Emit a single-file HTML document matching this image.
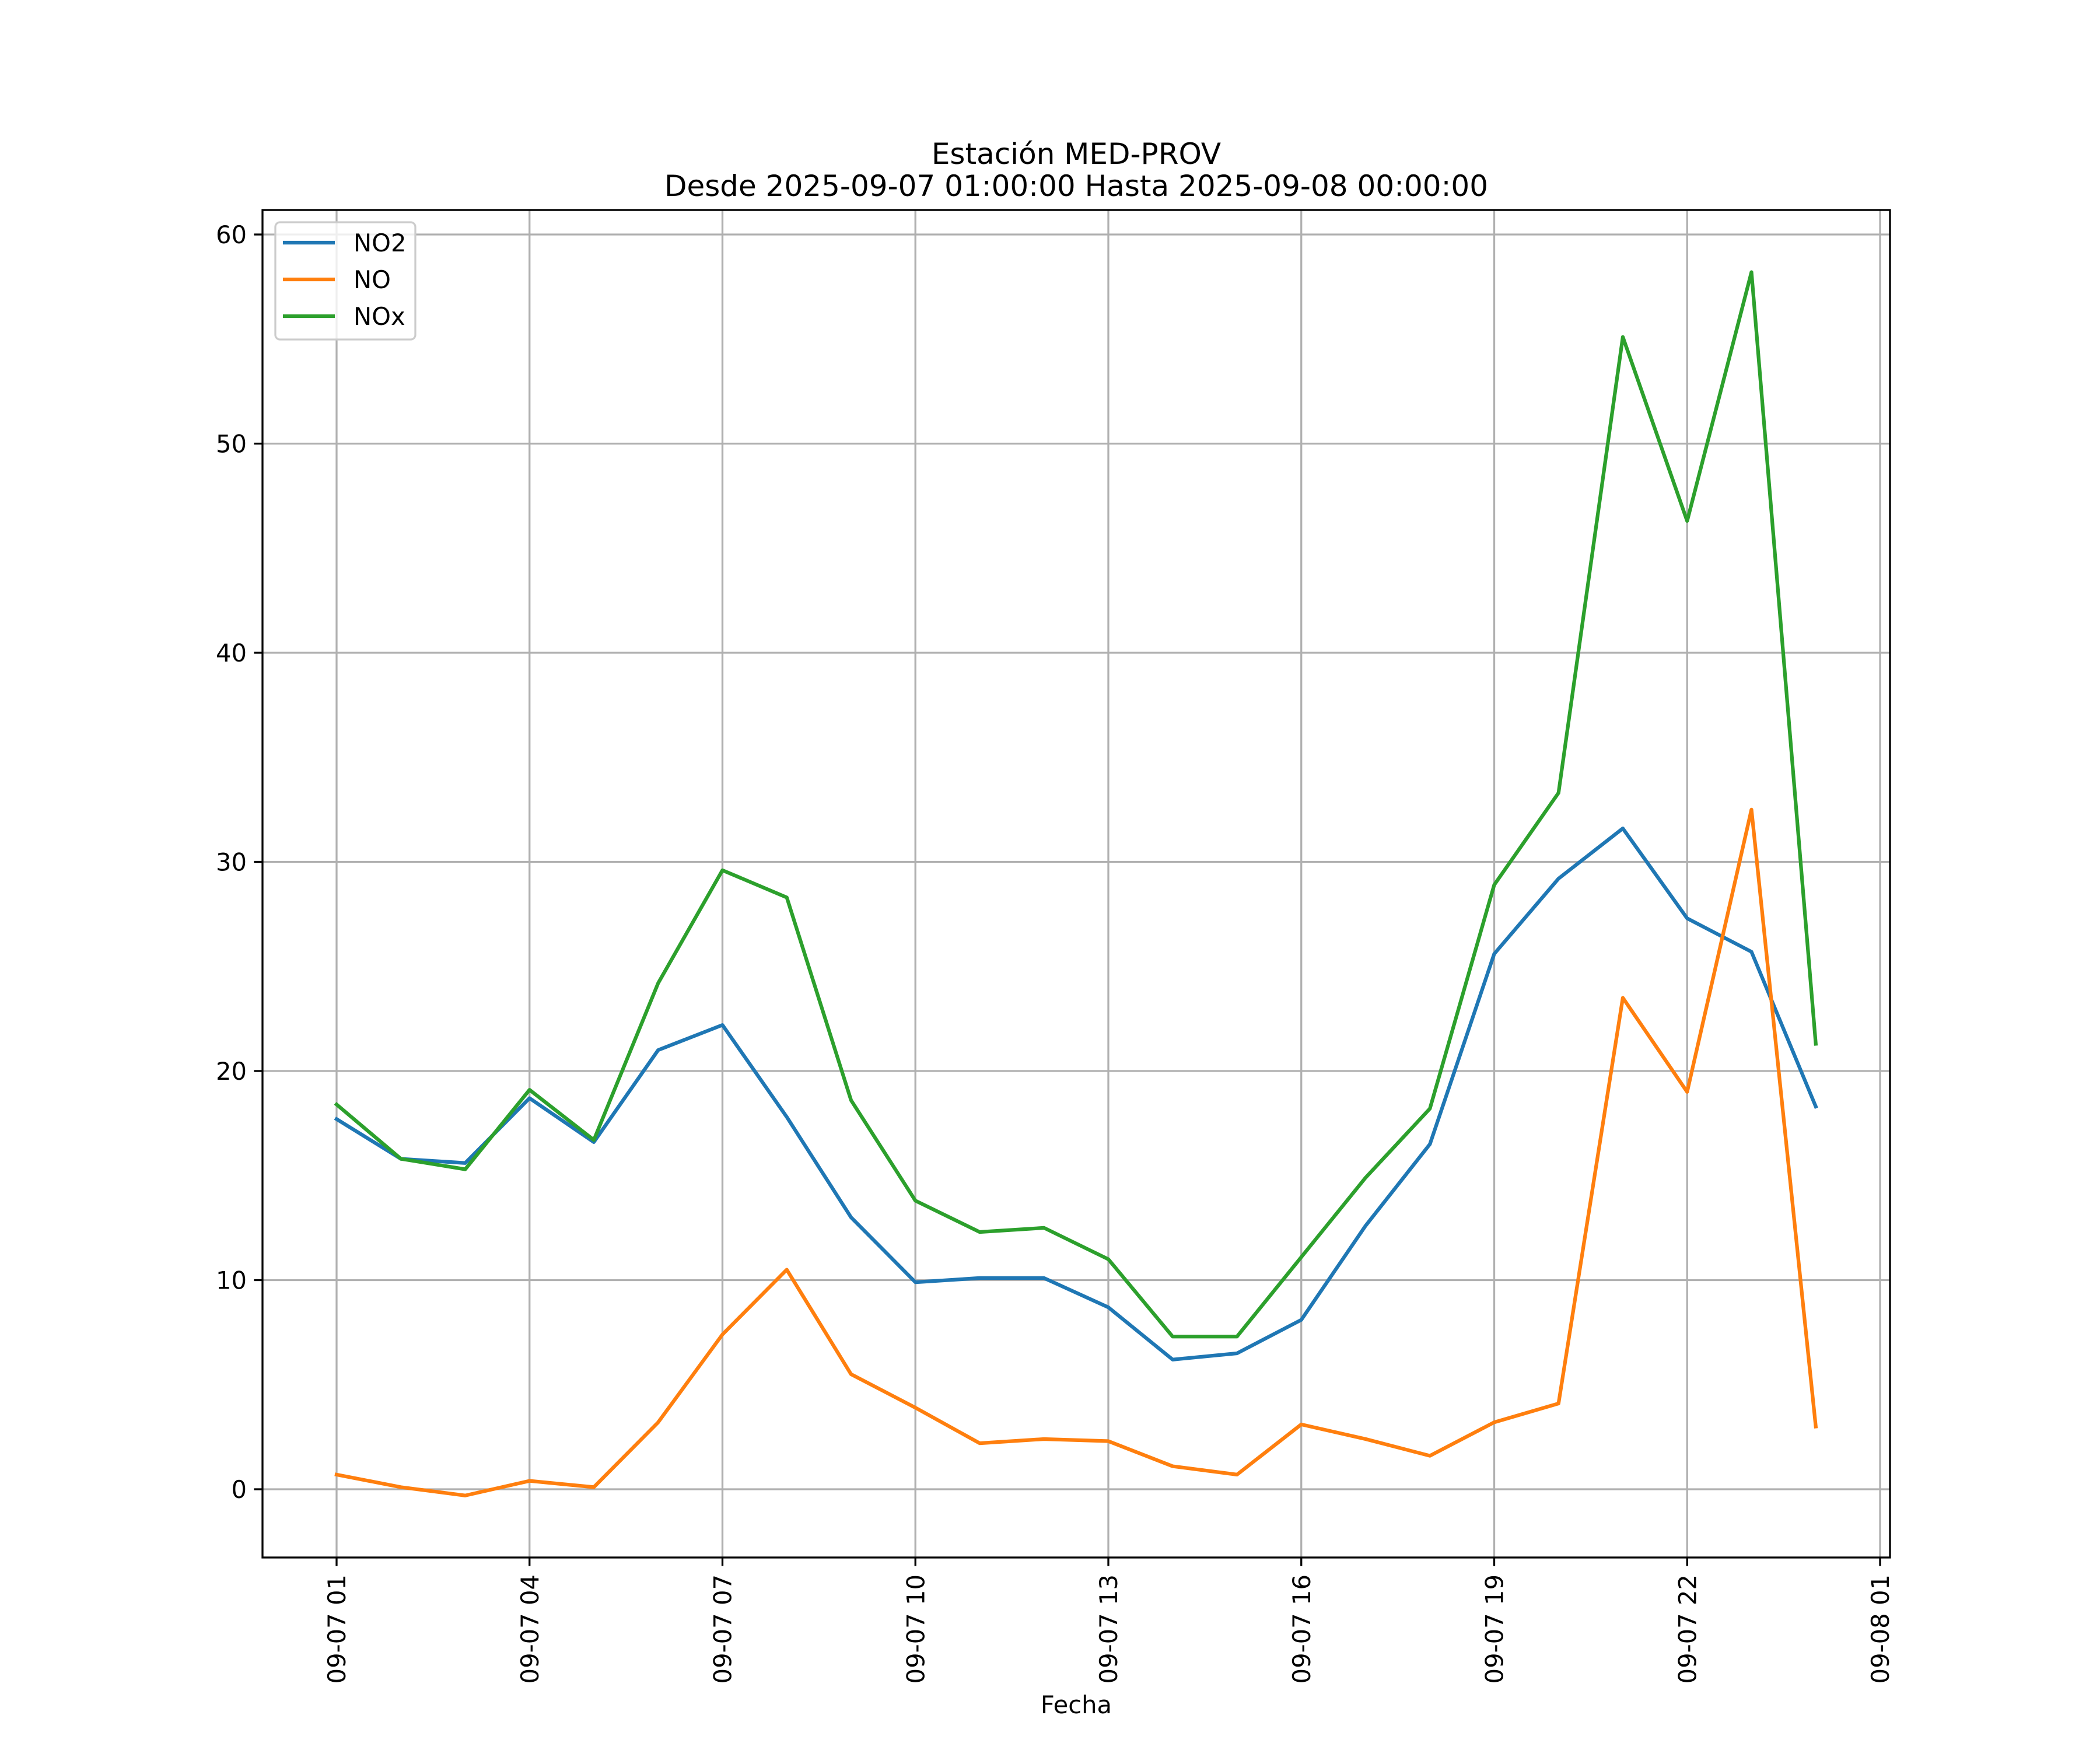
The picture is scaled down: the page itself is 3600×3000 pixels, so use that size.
<!DOCTYPE html>
<html><head><meta charset="utf-8"><style>
html,body{margin:0;padding:0;background:#fff}
svg{display:block;font-family:"DejaVu Sans","Liberation Sans",sans-serif}
</style></head><body>
<svg id="chart" width="3600" height="3000" viewBox="0 0 3600 3000" xmlns="http://www.w3.org/2000/svg">
<rect width="3600" height="3000" fill="#fff"/>
<g id="grid"></g>
<g id="series"></g>
<g id="axes"></g>
<text x="1845" y="281" text-anchor="middle" font-size="50">Estación MED-PROV</text>
<text x="1845" y="336" text-anchor="middle" font-size="50">Desde 2025-09-07 01:00:00 Hasta 2025-09-08 00:00:00</text>
<text x="1845" y="2937" text-anchor="middle" font-size="41.7">Fecha</text>
<g id="legend"></g>
</svg>
<script>
const hours = [1,2,3,4,5,6,7,8,9,10,11,12,13,14,15,16,17,18,19,20,21,22,23,24];
const no2 = [17.7,15.8,15.6,18.7,16.6,21.0,22.2,17.8,13.0,9.9,10.1,10.1,8.7,6.2,6.5,8.1,12.6,16.5,25.6,29.2,31.6,27.3,25.7,18.3];
const no = [0.7,0.1,-0.3,0.4,0.1,3.2,7.4,10.5,5.5,3.9,2.2,2.4,2.3,1.1,0.7,3.1,2.4,1.6,3.2,4.1,23.5,19.0,32.5,3.0];
const nox = [18.4,15.8,15.3,19.1,16.7,24.2,29.6,28.3,18.6,13.8,12.3,12.5,11.0,7.3,7.3,11.1,14.9,18.2,28.9,33.3,55.1,46.3,58.2,21.3];
const yTicks = [0,10,20,30,40,50,60];
const xTickHours = [1,4,7,10,13,16,19,22,25];
const xTickLabels = ["09-07 01","09-07 04","09-07 07","09-07 10","09-07 13","09-07 16","09-07 19","09-07 22","09-08 01"];
const seriesNames = ["NO2","NO","NOx"];

const L=450,R=3240,T=360,B=2670;
function xs(h){return 577+(h-1)*(3223-577)/24;}
function ys(v){return 2553-v*(2553-402)/60;}
const NS="http://www.w3.org/2000/svg";
function mk(tag,attrs,parent){const e=document.createElementNS(NS,tag);for(const k in attrs)e.setAttribute(k,attrs[k]);parent.appendChild(e);return e;}
const grid=document.getElementById('grid'),axes=document.getElementById('axes'),ser=document.getElementById('series'),leg=document.getElementById('legend');

yTicks.forEach(v=>{
  const y=ys(v);
  const g=mk('line',{x1:L,x2:R,y1:y,y2:y,stroke:'#b0b0b0','stroke-width':3.3},grid);
  
  
  const t=mk('line',{x1:L-14.6,x2:L,y1:y,y2:y,stroke:'#000','stroke-width':3.3},axes);
  
  
  const tx=mk('text',{x:L-27,y:y+15,'text-anchor':'end','font-size':41.7},axes);
  tx.textContent=v;
  
  
});
xTickHours.forEach((h,i)=>{
  const x=xs(h);
  const g=mk('line',{x1:x,x2:x,y1:T,y2:B,stroke:'#b0b0b0','stroke-width':3.3},grid);
  
  
  const t=mk('line',{x1:x,x2:x,y1:B,y2:B+14.6,stroke:'#000','stroke-width':3.3},axes);
  
  
  const tx=mk('text',{x:0,y:0,'text-anchor':'end','font-size':41.7,transform:`translate(${x+15},${B+29}) rotate(-90)`},axes);
  tx.textContent=xTickLabels[i];
  
  
});
const sp=mk('rect',{x:L,y:T,width:R-L,height:B-T,fill:'none',stroke:'#000','stroke-width':3.3},axes);



const colors=['#1f77b4','#ff7f0e','#2ca02c'];
[no2,no,nox].forEach((d,i)=>{
  const p=mk('polyline',{points:d.map((v,j)=>xs(hours[j])+','+ys(v)).join(' '),fill:'none',stroke:colors[i],'stroke-width':6.25,'stroke-linejoin':'round','stroke-linecap':'square'},ser);
  
  
});

const box=mk('rect',{x:472,y:381,width:240,height:201,rx:8,fill:'#fff','fill-opacity':0.8,stroke:'#cccccc','stroke-width':3.3},leg);


seriesNames.forEach((n,i)=>{
  const y=416+i*63;
  const l=mk('line',{x1:485,x2:574,y1:y,y2:y,stroke:colors[i],'stroke-width':6.25},leg);
  
  
  const t=mk('text',{x:606,y:y+15,'font-size':41.7},leg);
  t.textContent=n;
  
  
});
</script>
</body></html>
